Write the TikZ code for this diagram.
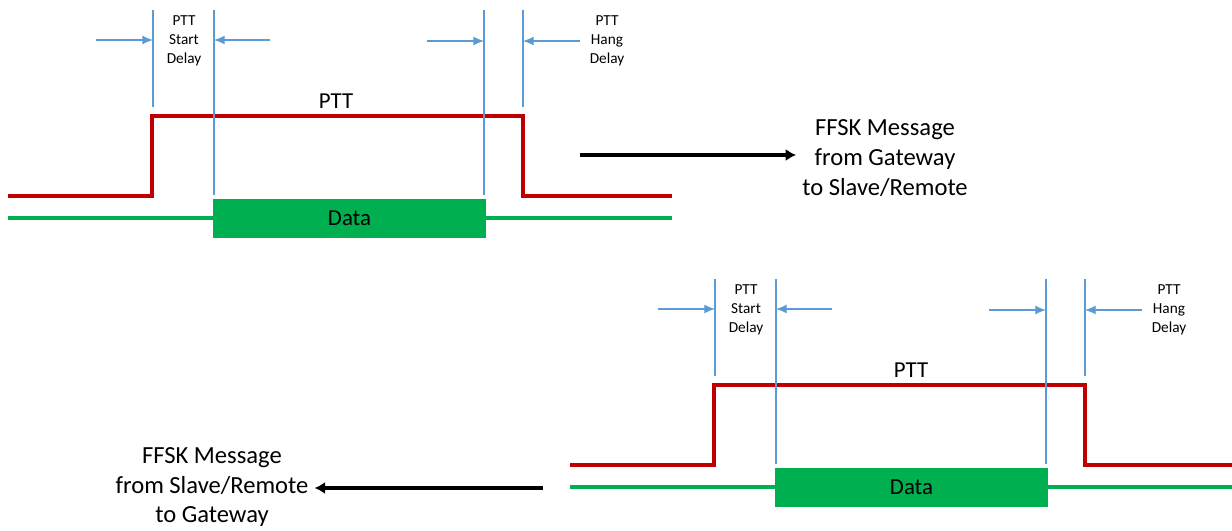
\documentclass[tikz,border=0pt]{standalone}
\usepackage{fontspec}
\setmainfont{Carlito}
\usetikzlibrary{arrows.meta,positioning}
\definecolor{ptt}{RGB}{192,0,0}
\definecolor{data}{RGB}{0,176,80}
\definecolor{marker}{RGB}{91,155,213}

\tikzset{
  ptt line/.style={ptt, line width=2pt},
  data line/.style={data, line width=2pt},
  data box/.style={fill=data, minimum width=5.48cm, minimum height=0.78cm,
    inner sep=0pt, font=\fontsize{13}{15}\selectfont},
  signal label/.style={font=\fontsize{13}{15}\selectfont},
  marker line/.style={marker, line width=0.6pt},
  marker arrow/.style={marker, line width=0.6pt, -{Latex[length=6pt,width=5pt]}},
  delay label/.style={align=center, font=\fontsize{8.7}{10.8}\selectfont},
  msg label/.style={align=center, font=\fontsize{14}{17}\selectfont},
  msg arrow/.style={black, line width=2.2pt, -{Latex[length=6pt,width=7pt]}}
}

\begin{document}
\begin{tikzpicture}[x=0.02cm, y=-0.02cm]
\useasboundingbox (0,0) rectangle (1232,531);

% timing diagrams
\foreach \dx/\dy/\pttx/\pre in {0/0/336/top, 562/269/349/bot}{
\begin{scope}[shift={(\dx,\dy)}, name prefix=\pre-]
  \draw[ptt line] (8,196) -- (152,196) -- (152,116) -- (523,116) -- (523,196) -- (672,196);
  \node[signal label] (ptt) at (\pttx,101) {PTT};
  \draw[data line] (8,218) -- (672,218);
  \node[data box] (data) at (349.5,218.5) {Data};
  % delay markers
  \foreach \n/\x/\y in {m1/153/107, m2/214/195, m3/484/195, m4/523/107}{
    \coordinate (\n top) at (\x,10);
    \coordinate (\n bot) at (\x,\y);
    \draw[marker line] (\n top) -- (\n bot);
  }
  \foreach \n/\x/\tx/\y in {1/96/153/40, 2/270/214/40, 3/427/484/41, 4/580/523/41}{
    \coordinate (a\n) at (\x,\y);
    \coordinate (e\n) at (\tx,\y);
    \draw[marker arrow] (a\n) -- (e\n);
  }
  \node[delay label] (start) at (184,41) {PTT\\Start\\Delay};
  \node[delay label] (hang) at (607,41) {PTT\\Hang\\Delay};
\end{scope}}

% messages
\node[msg label] (msg1) at (885,158) {FFSK Message\\from Gateway\\to Slave/Remote};
\coordinate (msg1 start) at (580,155);
\draw[msg arrow] (msg1 start) -- (msg1 start -| msg1.west);

\node[msg label] (msg2) at (212,487) {FFSK Message\\from Slave/Remote\\to Gateway};
\coordinate (msg2 start) at (543,488);
\draw[msg arrow] (msg2 start) -- (msg2 start -| msg2.east);
\end{tikzpicture}
\end{document}
